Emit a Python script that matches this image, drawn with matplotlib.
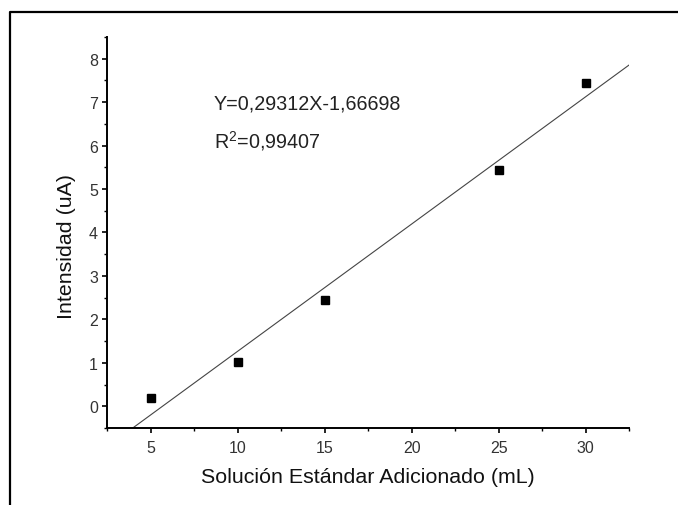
import numpy as np
import matplotlib
matplotlib.use("Agg")
import matplotlib.pyplot as plt
from matplotlib.lines import Line2D
from matplotlib.ticker import MultipleLocator

plt.rcParams["font.family"] = ["Liberation Sans", "DejaVu Sans"]
plt.rcParams["mathtext.fontset"] = "custom"
plt.rcParams["mathtext.rm"] = "Liberation Sans"
plt.rcParams["mathtext.it"] = "Liberation Sans"
plt.rcParams["mathtext.default"] = "regular"

# data
volumen = [5, 10, 15, 25, 30]
intensidad = [0.19, 1.01, 2.44, 5.44, 7.43]
pendiente = 0.29312
intercepto = -1.66698
ecuacion = "Y=0,29312X-1,66698"
r2_texto = "R$^2$=0,99407"

fig = plt.figure(figsize=(6.78, 5.06), dpi=100)
ax = fig.add_axes([0.1578, 0.1522, 0.7704, 0.7727])

xlim = (2.5, 32.5)
ylim = (-0.5, 8.5)

xf = np.array(xlim)
ax.plot(xf, pendiente * xf + intercepto, color="#444444", lw=0.8)
ax.plot(volumen, intensidad, "s", color="black", ms=6)

ax.set_xlim(*xlim)
ax.set_ylim(*ylim)

ax.xaxis.set_major_locator(MultipleLocator(5))
ax.xaxis.set_minor_locator(MultipleLocator(2.5))
ax.yaxis.set_major_locator(MultipleLocator(1))
ax.yaxis.set_minor_locator(MultipleLocator(0.5))

for s in ("top", "right"):
    ax.spines[s].set_visible(False)
for s in ("left", "bottom"):
    ax.spines[s].set_linewidth(1.4)

ax.tick_params(which="major", direction="out", length=3.5, width=1.2,
               labelsize=11.5, labelcolor="#333333")
ax.tick_params(which="minor", direction="out", length=2.2, width=1.0)
ax.tick_params(axis="x", which="major", pad=5)
ax.tick_params(axis="y", which="major", pad=3)

ax.set_xlabel("Solución Estándar Adicionado (mL)", fontsize=15.4, color="#111111")
ax.set_ylabel("Intensidad (uA)", fontsize=15.4, color="#111111")
ax.xaxis.set_label_coords(0.5, -0.125)
ax.xaxis.label.set_va("center")
ax.yaxis.set_label_coords(-0.077, 0.466)
ax.yaxis.label.set_va("center")

ax.text(0.204, 0.83, ecuacion, transform=ax.transAxes, fontsize=14.2,
        va="center", ha="left", color="#222222")
ax.text(0.204, 0.737, r2_texto, transform=ax.transAxes, fontsize=14.2,
        va="center", ha="left", color="#222222")

# outer frame (only left and top edges visible in the image)
fx = 10 / 678
fy = 1 - 13 / 506
fig.add_artist(Line2D([fx, fx, 1.0], [0.0, fy, fy], transform=fig.transFigure,
                      color="black", lw=1.6))

fig.savefig("out.png", dpi=100)
